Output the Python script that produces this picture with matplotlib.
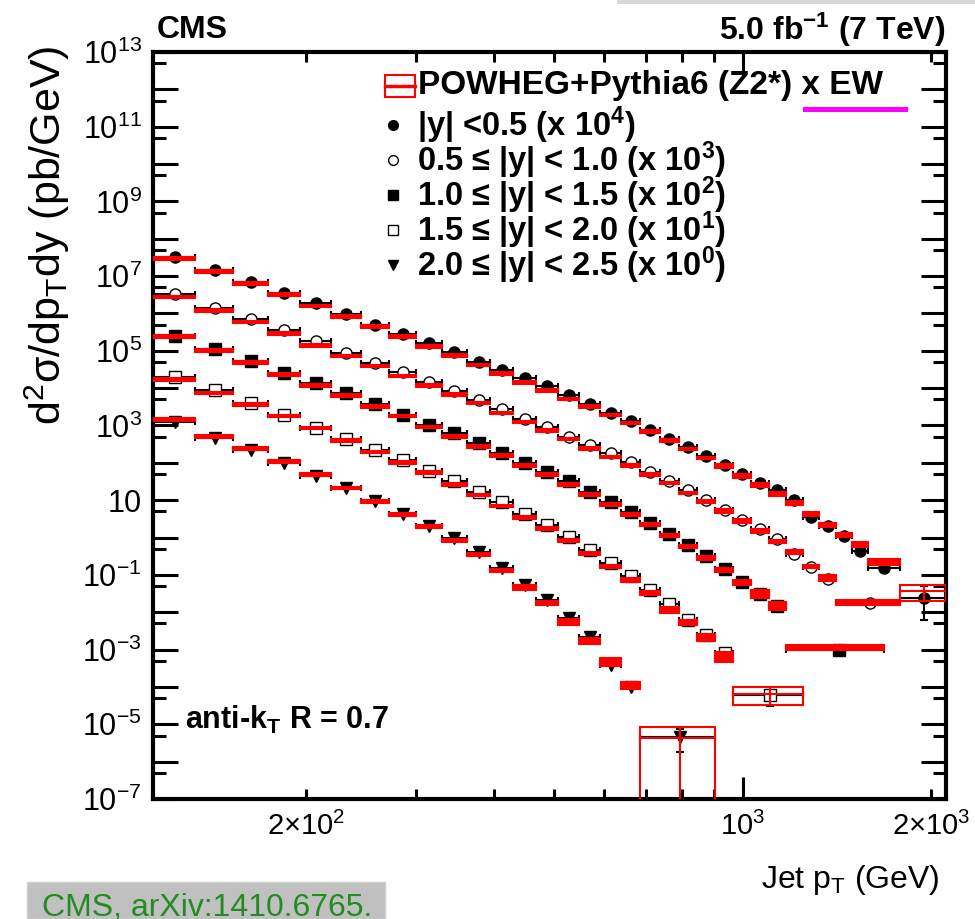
import numpy as np
import matplotlib
matplotlib.use('Agg')
import matplotlib.pyplot as plt
from matplotlib.patches import Rectangle
from matplotlib.ticker import FixedLocator, FixedFormatter, FuncFormatter

plt.rcParams['font.family'] = ['Liberation Sans', 'DejaVu Sans']
plt.rcParams['mathtext.fontset'] = 'custom'
plt.rcParams['mathtext.rm'] = 'Liberation Sans'
plt.rcParams['mathtext.bf'] = 'Liberation Sans:bold'
plt.rcParams['mathtext.it'] = 'Liberation Sans:italic'

# ---- data (pb/GeV, already scaled by the factors in the legend) ----
# bin edges in GeV, last bins are merged
edges_y1 = [114, 133, 153, 174, 196, 220, 245, 272, 300, 330, 362, 395, 430, 468, 507, 548, 592, 638,
            686, 737, 790, 846, 905, 967, 1032, 1101, 1172, 1248, 1327, 1410, 1497, 1588, 1784, 2116]
edges_y2 = [114, 133, 153, 174, 196, 220, 245, 272, 300, 330, 362, 395, 430, 468, 507, 548, 592, 638,
            686, 737, 790, 846, 905, 967, 1032, 1101, 1172, 1248, 1327, 1410, 1784]
edges_y3 = [114, 133, 153, 174, 196, 220, 245, 272, 300, 330, 362, 395, 430, 468, 507, 548, 592, 638,
            686, 737, 790, 846, 905, 967, 1032, 1101, 1172, 1684]
edges_y4 = [114, 133, 153, 174, 196, 220, 245, 272, 300, 330, 362, 395, 430, 468, 507, 548, 592, 638,
            686, 737, 790, 846, 905, 967, 1248]
edges_y5 = [114, 133, 153, 174, 196, 220, 245, 272, 300, 330, 362, 395, 430, 468, 507, 548, 592, 638,
            686, 905]

data_y1 = [3.33e7, 1.46e7, 6.95e6, 3.61e6, 1.87e6, 9.64e5, 5.01e5, 2.81e5, 1.65e5, 9.06e4, 5.13e4,
           2.98e4, 1.82e4, 1.13e4, 6.37e3, 3.77e3, 2.19e3, 1.30e3, 781, 448, 268, 157, 90.0, 51.7,
           29.1, 18.4, 9.94, 3.57, 2.00, 1.08, 0.431, 0.153, 0.0240]
theo_y1 = [2.94e7, 1.32e7, 6.29e6, 3.19e6, 1.58e6, 8.36e5, 4.43e5, 2.39e5, 1.29e5, 7.39e4, 4.19e4,
           2.48e4, 1.40e4, 8.67e3, 5.20e3, 3.23e3, 1.91e3, 1.18e3, 703, 396, 237, 136, 81.1, 45.7,
           26.2, 14.8, 8.47, 4.37, 2.22, 1.20, 0.665, 0.226, 0.0361]
unc_y1 = [0.08, 0.08, 0.08, 0.08, 0.08, 0.08, 0.08, 0.08, 0.08, 0.08, 0.08, 0.08, 0.08, 0.08, 0.08,
          0.08, 0.08, 0.08, 0.08, 0.08, 0.08, 0.08, 0.12, 0.12, 0.12, 0.12, 0.12, 0.12, 0.12, 0.12,
          0.15, 0.21, 0.45]

data_y2 = [3.40e6, 1.43e6, 6.95e5, 3.59e5, 1.82e5, 8.89e4, 4.80e4, 2.69e4, 1.45e4, 8.31e3, 4.92e3,
           2.77e3, 1.51e3, 895, 507, 294, 178, 104, 56.0, 33.5, 18.4, 10.4, 5.60, 2.89, 1.70, 0.916,
           0.370, 0.163, 0.0791, 0.0177]
theo_y2 = [2.75e6, 1.21e6, 5.88e5, 2.87e5, 1.40e5, 7.21e4, 3.89e4, 2.10e4, 1.18e4, 6.78e3, 4.01e3,
           2.19e3, 1.24e3, 743, 432, 242, 145, 84.7, 48.5, 29.1, 15.7, 9.35, 5.04, 2.72, 1.53, 0.791,
           0.414, 0.169, 0.0826, 0.0189]
unc_y2 = [0.08, 0.08, 0.08, 0.08, 0.08, 0.08, 0.08, 0.08, 0.08, 0.08, 0.08, 0.08, 0.08, 0.08, 0.08,
          0.08, 0.08, 0.08, 0.08, 0.08, 0.08, 0.08, 0.12, 0.12, 0.12, 0.12, 0.12, 0.12, 0.18, 0.15]

data_y3 = [2.43e5, 1.14e5, 5.20e4, 2.59e4, 1.34e4, 7.21e3, 3.66e3, 1.97e3, 1.06e3, 622, 344, 185, 100,
           58.5, 32.1, 17.0, 8.79, 4.74, 2.46, 1.27, 0.646, 0.313, 0.144, 0.0630, 0.0300, 0.0150,
           9.9e-4]
theo_y3 = [2.39e5, 1.04e5, 4.80e4, 2.33e4, 1.20e4, 6.37e3, 3.29e3, 1.78e3, 922, 507, 274, 155, 84.7,
           48.5, 26.2, 14.1, 7.62, 4.11, 2.22, 1.12, 0.581, 0.284, 0.138, 0.0630, 0.0313, 0.0154,
           1.13e-3]
unc_y3 = [0.08, 0.08, 0.08, 0.08, 0.08, 0.08, 0.08, 0.08, 0.08, 0.08, 0.08, 0.08, 0.08, 0.08, 0.08,
          0.08, 0.08, 0.08, 0.08, 0.08, 0.08, 0.14, 0.14, 0.14, 0.24, 0.24, 0.14]

data_y4 = [2.02e4, 8.84e3, 3.89e3, 1.97e3, 874, 422, 227, 117, 62.2, 32.1, 16.5, 8.89, 4.37, 2.22,
           1.06, 0.474, 0.208, 0.0912, 0.0401, 0.0169, 6.29e-3, 2.49e-3, 8.05e-4, 6.14e-5]
theo_y4 = [1.71e4, 7.53e3, 3.66e3, 1.78e3, 867, 396, 197, 104, 54.9, 26.2, 13.7, 7.03, 3.46, 1.73,
           0.841, 0.377, 0.169, 0.0743, 0.0327, 0.0117, 5.33e-3, 2.16e-3, 6.53e-4, 6.53e-5]
unc_y4 = [0.08, 0.08, 0.08, 0.08, 0.08, 0.08, 0.08, 0.08, 0.08, 0.08, 0.08, 0.08, 0.08, 0.08, 0.08,
          0.08, 0.08, 0.14, 0.14, 0.19, 0.17, 0.21, 0.29, 0.5]

data_y5 = [1.23e3, 468, 218, 100, 43.7, 21.4, 9.35, 4.37, 2.00, 0.975, 0.401, 0.153, 0.0546, 0.0216,
           7.0e-3, 2.16e-3, 3.91e-4, 9.9e-5, 4.68e-6]
theo_y5 = [1.45e3, 516, 242, 110, 48.5, 21.4, 9.35, 4.11, 1.96, 0.826, 0.348, 0.132, 0.0474, 0.0177,
           5.66e-3, 1.75e-3, 4.80e-4, 1.14e-4, 4.24e-6]
unc_y5 = [0.08, 0.08, 0.08, 0.08, 0.08, 0.08, 0.08, 0.08, 0.08, 0.08, 0.08, 0.08, 0.15, 0.14, 0.19,
          0.2, 0.24, 0.21, 1.0]

# visible vertical error bars (bin index: (low, high))
err_y1 = {32: (0.0063, 0.0492)}
err_y4 = {23: (3.11e-5, 8.36e-5)}
err_y5 = {18: (1.85e-6, 7.5e-6)}

legend_labels = ['|y| <0.5 (x 10$^{\\mathbf{4}}$)',
                 '0.5 \u2264 |y| < 1.0 (x 10$^{\\mathbf{3}}$)',
                 '1.0 \u2264 |y| < 1.5 (x 10$^{\\mathbf{2}}$)',
                 '1.5 \u2264 |y| < 2.0 (x 10$^{\\mathbf{1}}$)',
                 '2.0 \u2264 |y| < 2.5 (x 10$^{\\mathbf{0}}$)']

fig = plt.figure(figsize=(9.75, 9.19), dpi=100)
ax = fig.add_axes([153/975, 1-799/919, 793/975, 747/919])
ax.set_xscale('log')
ax.set_yscale('log')


def draw_series(edges, data, theo, unc, marker, mfc, errs):
    lo = np.array(edges[:-1], dtype=float)
    hi = np.array(edges[1:], dtype=float)
    xc = (lo + hi) / 2
    data = np.array(data)
    ax.errorbar(xc, data, xerr=[xc-lo, hi-xc], fmt='none', ecolor='k', elinewidth=1.5,
                capsize=2.5, capthick=1.5, zorder=2)
    for i, (a, b) in errs.items():
        ax.errorbar([xc[i]], [data[i]], yerr=[[data[i]-a], [b-data[i]]], fmt='none', ecolor='k',
                    elinewidth=1.5, capsize=3, capthick=1.5, zorder=2)
    ax.plot(xc, data, ls='none', marker=marker, ms=8, mfc=mfc, mec='k', mew=1.0, zorder=3)
    for i in range(len(theo)):
        t = theo[i]
        t_lo = max(t*(1-unc[i]), 1e-9)
        t_hi = t*(1+unc[i])
        solid = t_hi/t_lo < 2
        ax.add_patch(Rectangle((lo[i], t_lo), hi[i]-lo[i], t_hi-t_lo, fc='red' if solid else 'none',
                               ec='red', lw=1.5, zorder=4))
        ax.plot([lo[i], hi[i]], [t, t], color='red', lw=1.5, zorder=4)
        ax.plot([xc[i], xc[i]], [t_lo, t_hi], color='red', lw=1.5, zorder=4)


draw_series(edges_y1, data_y1, theo_y1, unc_y1, 'o', 'k', err_y1)
draw_series(edges_y2, data_y2, theo_y2, unc_y2, 'o', 'white', {})
draw_series(edges_y3, data_y3, theo_y3, unc_y3, 's', 'k', {})
draw_series(edges_y4, data_y4, theo_y4, unc_y4, 's', 'white', err_y4)
draw_series(edges_y5, data_y5, theo_y5, unc_y5, 'v', 'k', err_y5)

ax.set_xlim(114, 2116)
ax.set_ylim(1e-7, 1e13)

# ticks (ROOT style, inside on all sides)
ax.yaxis.set_major_locator(FixedLocator([10.0**k for k in range(-7, 14)]))
ax.yaxis.set_minor_locator(FixedLocator([5*10.0**k for k in range(-8, 13)]))


def ylab(v, pos):
    k = int(round(np.log10(v)))
    if k % 2 == 0:
        return ''
    if k == 1:
        return '10'
    return '$10^{%d}$' % k


ax.yaxis.set_major_formatter(FuncFormatter(ylab))
ax.yaxis.set_minor_formatter(FixedFormatter([]))

ax.xaxis.set_major_locator(FixedLocator([1000]))
ax.xaxis.set_major_formatter(FixedFormatter(['$10^{3}$']))
ax.xaxis.set_minor_locator(FixedLocator([200, 300, 400, 500, 600, 700, 800, 900, 2000]))
ax.xaxis.set_minor_formatter(FixedFormatter(['$2{\\times}10^{2}$', '', '', '', '', '', '', '',
                                             '$2{\\times}10^{3}$']))

ax.tick_params(axis='y', which='major', direction='in', length=18, width=2.2, left=True, right=True,
               labelsize=22, pad=8)
ax.tick_params(axis='y', which='minor', direction='in', length=9.5, width=2.2, left=True, right=True)
ax.tick_params(axis='x', which='major', direction='in', length=16, width=2.2, top=True, bottom=True,
               labelsize=21, pad=9)
ax.tick_params(axis='x', which='minor', direction='in', length=7.5, width=2.2, top=True, bottom=True,
               labelsize=21, pad=9)
for sp in ax.spines.values():
    sp.set_linewidth(3)

# labels
fig.text(940/975, 1-880/919, 'Jet p$_{\\mathrm{T}}$ (GeV)', ha='right', va='center', fontsize=23)
fig.text(47/975, 1-45/919, 'd$^{2}$\u03c3/dp$_{\\mathrm{T}}$dy (pb/GeV)', rotation=90, ha='center',
         va='top', fontsize=31)
ax.text(0.005, 1.03, 'CMS', transform=ax.transAxes, ha='left', va='center', fontsize=23,
        fontweight='bold')
ax.text(0.999, 1.03, '5.0 fb$^{\\mathbf{-1}}$ (7 TeV)', transform=ax.transAxes, ha='right',
        va='center', fontsize=23, fontweight='bold')
ax.text(0.0404, 0.106, 'anti-k$_{\\mathbf{T}}$ R = 0.7', transform=ax.transAxes, ha='left',
        va='center', fontsize=22, fontweight='bold')

# legend drawn by hand
ax.add_patch(Rectangle((0.2926, 0.9398), 0.0378, 0.0294, transform=ax.transAxes, fc='none', ec='red',
                       lw=1.5, clip_on=False))
ax.plot([0.2926, 0.3304], [0.9545, 0.9545], transform=ax.transAxes, color='red', lw=2.5, clip_on=False)
ax.text(0.334, 0.9558, 'POWHEG+Pythia6 (Z2*) x EW', transform=ax.transAxes, ha='left', va='center',
        fontsize=24, fontweight='bold')
ax.plot([0.822, 0.948], [0.9237, 0.9237], transform=ax.transAxes, color='#ff00ff', lw=3.6)

leg_markers = [('o', 'k'), ('o', 'white'), ('s', 'k'), ('s', 'white'), ('v', 'k')]
leg_y = [0.9022, 0.8554, 0.8086, 0.7617, 0.7149]
for (m, fc), yy, lab in zip(leg_markers, leg_y, legend_labels):
    ax.plot([0.3026], [yy], transform=ax.transAxes, marker=m, ms=7, mfc=fc, mec='k', mew=1.0,
            ls='none', clip_on=False)
    ax.text(0.3329, yy, lab, transform=ax.transAxes, ha='left', va='center', fontsize=23.5,
            fontweight='bold')

# page decorations around the figure
fig.patches.append(Rectangle((27/975, 0), 358/975, 37/919, transform=fig.transFigure, fc='#c0c0c0',
                             ec='#d0d0d0', lw=1))
fig.text(42/975, 3/919, 'CMS, arXiv:1410.6765.', color='#228b22', fontsize=23, ha='left',
         va='baseline')
fig.patches.append(Rectangle((617/975, 1-4/919), 358/975, 4/919, transform=fig.transFigure,
                             fc='#d8d8d8', ec='none'))

fig.savefig('out.png', dpi=100)
